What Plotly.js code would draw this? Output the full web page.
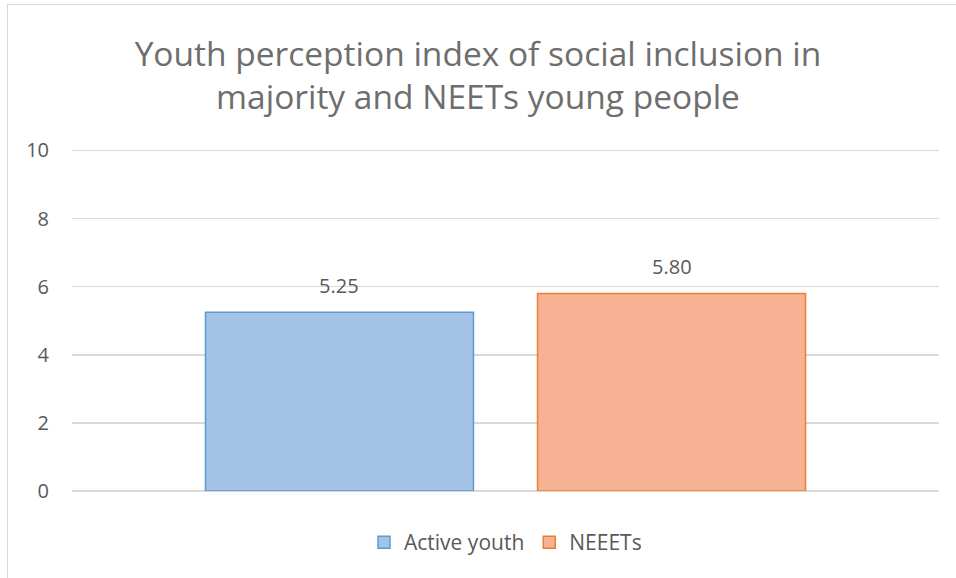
<!DOCTYPE html>
<html>
<head>
<meta charset="utf-8">
<script src="https://cdn.plot.ly/plotly-3.0.1.min.js"></script>
<style>
  html, body { margin: 0; padding: 0; background: #ffffff; overflow: hidden; }
  #wrap { position: relative; width: 956px; height: 578px; }
  #chart { position: absolute; left: 0; top: 0; width: 956px; height: 578px; }
  #frame { position: absolute; left: 7px; top: 4px; width: 960px; height: 600px; border: 1px solid #d9d9d9; box-sizing: border-box; pointer-events: none; }
</style>
</head>
<body>
<div id="wrap">
  <div id="chart"></div>
  <div id="frame"></div>
</div>
<script>
const category = [''];
const seriesNames = ['Active youth', 'NEEETs'];
const activeYouth = [5.25];
const neeets = [5.80];
const yTicks = [0, 2, 4, 6, 8, 10];

const fills = ['#a5c2e7', '#f6b293'];
const borders = ['#5b9bd5', '#ed7d31'];
const seriesValues = [activeYouth, neeets];

const bargap = 0.234;
const bargroupgap = 0.193;

const traces = seriesValues.map((vals, i) => ({
  type: 'bar',
  name: seriesNames[i],
  x: category,
  y: vals,
  marker: { color: fills[i], line: { color: borders[i], width: 1.5 } },
  hoverinfo: 'skip'
}));

// data labels placed above each bar in the group
const slot = (1 - bargap) / seriesValues.length;
const annotations = [];
seriesValues.forEach((vals, i) => {
  vals.forEach((v, j) => {
    annotations.push({
      xref: 'x', yref: 'y',
      x: j - (1 - bargap) / 2 + slot * (i + 0.5),
      y: v,
      text: v.toFixed(2),
      showarrow: false,
      yanchor: 'bottom',
      yshift: 11,
      font: { family: 'Open Sans, sans-serif', size: 20, color: '#595959' }
    });
  });
});

const layout = {
  width: 956, height: 578,
  margin: { l: 72, r: 17, t: 147, b: 87 },
  paper_bgcolor: 'rgba(0,0,0,0)',
  plot_bgcolor: 'rgba(0,0,0,0)',
  barmode: 'group',
  bargap: bargap,
  bargroupgap: bargroupgap,
  title: {
    text: 'Youth perception index of social inclusion in<br>majority and NEETs young people',
    font: { family: 'Open Sans, sans-serif', size: 33.5, color: '#6e6e6e' },
    x: 0.5, xanchor: 'center',
    y: 0.886, yanchor: 'middle'
  },
  xaxis: {
    type: 'category',
    showticklabels: false,
    showgrid: false,
    zeroline: false,
    showline: false,
    ticks: ''
  },
  yaxis: {
    range: [0, 10.1],
    tickvals: yTicks,
    ticktext: yTicks.map(String),
    showgrid: true,
    gridcolor: '#d9d9d9',
    gridwidth: 1.5,
    zeroline: true,
    zerolinecolor: '#d9d9d9',
    zerolinewidth: 1.5,
    showline: false,
    ticks: '',
    ticklabelstandoff: 22,
    tickfont: { family: 'Open Sans, sans-serif', size: 20, color: '#595959' },
    fixedrange: true
  },
  showlegend: true,
  legend: {
    orientation: 'h',
    x: 0.5, xanchor: 'center',
    y: -0.15, yanchor: 'middle',
    font: { family: 'Open Sans, sans-serif', size: 21, color: '#595959' },
    itemwidth: 30,
    traceorder: 'normal'
  },
  annotations: annotations
};

Plotly.newPlot('chart', traces, layout, { displayModeBar: false, staticPlot: true });
</script>
</body>
</html>
